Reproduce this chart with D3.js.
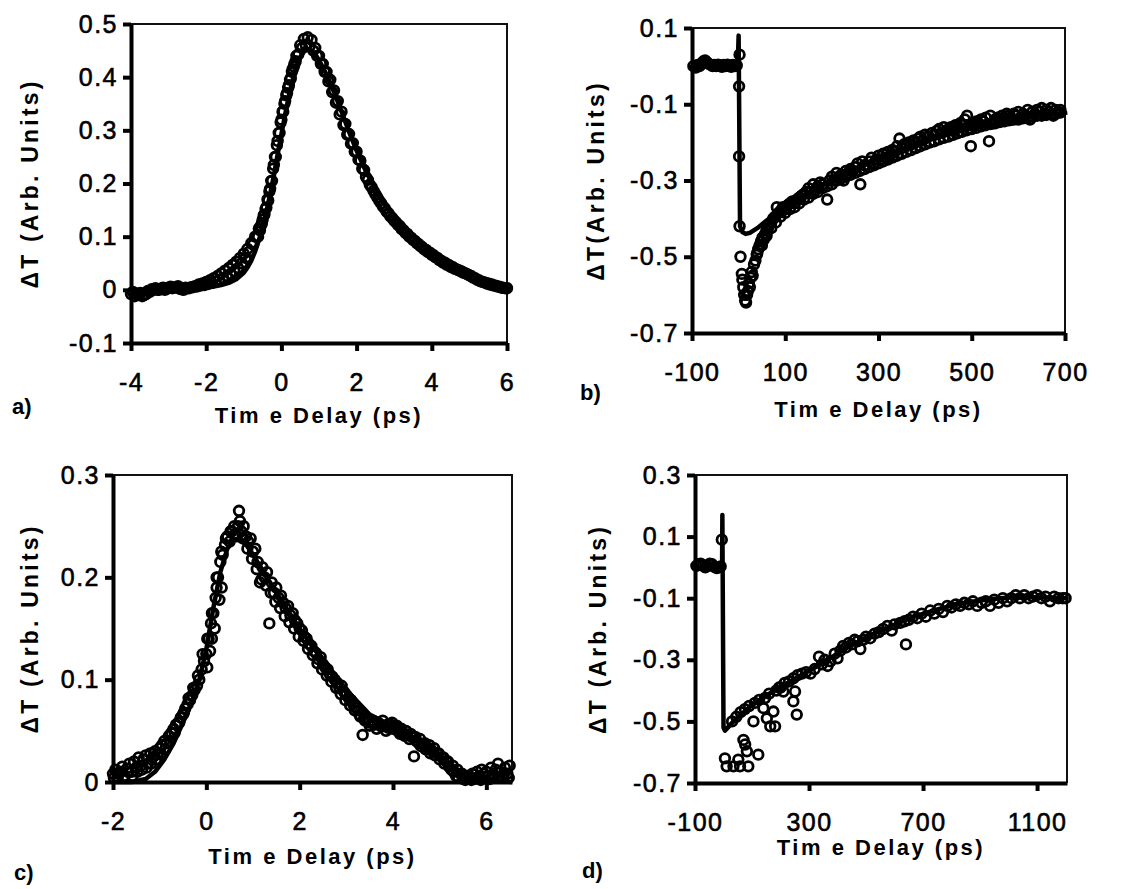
<!DOCTYPE html>
<html>
<head>
<meta charset="utf-8">
<script src="https://cdn.jsdelivr.net/npm/d3@7"></script>
<style>
  body { margin: 0; background: #fff; }
  svg text { font-family: "Liberation Sans", Arial, sans-serif; fill: #000; }
</style>
</head>
<body>
<svg width="1134" height="889"></svg>
<script>
// ---- panel a : short delay, sample 1 (two scans + fit) ----
const aPoints = [[-4.0,-0.008],[-3.9,-0.012],[-3.8,-0.01],[-3.7,-0.012],[-3.6,-0.008],[-3.5,-0.004],[-3.4,0.0],[-3.3,0.0],[-3.2,0.002],[-3.1,0.0],[-3.0,0.004],[-2.9,0.003],[-2.8,0.005],[-2.7,0.002],[-2.6,0.0],[-2.5,0.003],[-2.4,0.005],[-2.3,0.007],[-2.2,0.01],[-2.1,0.012],[-2.0,0.015],[-1.9,0.018],[-1.8,0.022],[-1.7,0.026],[-1.6,0.031],[-1.5,0.036],[-1.4,0.041],[-1.3,0.047],[-1.2,0.053],[-1.1,0.06],[-1.0,0.068],[-0.9,0.077],[-0.8,0.088],[-0.7,0.1],[-0.6,0.115],[-0.5,0.132],[-0.4,0.155],[-0.3,0.19],[-0.2,0.235],[-0.1,0.28],[0.0,0.32],[0.1,0.355],[0.2,0.385],[0.3,0.415],[0.4,0.44],[0.5,0.46],[0.6,0.472],[0.7,0.475],[0.8,0.47],[0.9,0.455],[1.0,0.44],[1.1,0.425],[1.2,0.41],[1.3,0.395],[1.4,0.375],[1.5,0.355],[1.6,0.335],[1.7,0.312],[1.8,0.293],[1.9,0.276],[2.0,0.26],[2.1,0.243],[2.2,0.225],[2.3,0.207],[2.4,0.193],[2.5,0.18],[2.6,0.168],[2.7,0.157],[2.8,0.147],[2.9,0.138],[3.0,0.13],[3.1,0.122],[3.2,0.114],[3.3,0.107],[3.4,0.1],[3.5,0.094],[3.6,0.088],[3.7,0.082],[3.8,0.076],[3.9,0.071],[4.0,0.066],[4.1,0.061],[4.2,0.056],[4.3,0.051],[4.4,0.047],[4.5,0.043],[4.6,0.04],[4.7,0.037],[4.8,0.034],[4.9,0.031],[5.0,0.027],[5.1,0.023],[5.2,0.019],[5.3,0.016],[5.4,0.014],[5.5,0.012],[5.6,0.01],[5.7,0.008],[5.8,0.006],[5.9,0.004],[6.0,0.003]];
const aPoints2 = [[-3.95,-0.004],[-3.85,-0.008],[-3.75,-0.006],[-3.65,-0.01],[-3.55,-0.002],[-3.45,0.001],[-3.35,0.003],[-3.25,0.0],[-3.15,0.004],[-3.05,0.002],[-2.95,0.006],[-2.85,0.004],[-2.75,0.007],[-2.65,0.001],[-2.55,0.004],[-2.45,0.003],[-2.35,0.005],[-2.25,0.006],[-2.15,0.008],[-2.05,0.009],[-1.95,0.011],[-1.85,0.013],[-1.75,0.016],[-1.65,0.019],[-1.55,0.022],[-1.45,0.026],[-1.35,0.03],[-1.25,0.035],[-1.15,0.041],[-1.05,0.05],[-0.95,0.06],[-0.85,0.072],[-0.75,0.085],[-0.65,0.1],[-0.62,0.1],[-0.57,0.112],[-0.55,0.12],[-0.52,0.125],[-0.47,0.14],[-0.45,0.142],[-0.42,0.152],[-0.37,0.17],[-0.35,0.168],[-0.32,0.185],[-0.27,0.205],[-0.25,0.205],[-0.22,0.228],[-0.17,0.25],[-0.15,0.25],[-0.12,0.272],[-0.07,0.295],[-0.05,0.295],[-0.02,0.315],[0.03,0.335],[0.05,0.335],[0.08,0.35],[0.13,0.366],[0.15,0.37],[0.18,0.38],[0.23,0.395],[0.25,0.398],[0.28,0.41],[0.33,0.42],[0.35,0.425],[0.38,0.43],[0.45,0.443],[0.55,0.455],[0.65,0.46],[0.75,0.458],[0.85,0.45],[0.95,0.44],[1.05,0.425],[1.15,0.41],[1.25,0.392],[1.35,0.372],[1.45,0.352],[1.55,0.33],[1.65,0.31],[1.75,0.292],[1.85,0.275],[1.95,0.26],[2.05,0.245],[2.15,0.228],[2.25,0.212],[2.35,0.198],[2.45,0.186],[2.55,0.174],[2.65,0.163],[2.75,0.153],[2.85,0.144],[2.95,0.135],[3.05,0.127],[3.15,0.12],[3.25,0.112],[3.35,0.105],[3.45,0.098],[3.55,0.092],[3.65,0.086],[3.75,0.08],[3.85,0.075],[3.95,0.07],[4.05,0.065],[4.15,0.06],[4.25,0.055],[4.35,0.051],[4.45,0.047],[4.55,0.043],[4.65,0.039],[4.75,0.036],[4.85,0.032],[4.95,0.029],[5.05,0.026],[5.15,0.022],[5.25,0.018],[5.35,0.015],[5.45,0.012],[5.55,0.01],[5.65,0.008],[5.75,0.006],[5.85,0.004],[5.95,0.003]];
const aFit = [[-4,0.0],[-3.5,0.0],[-3,0.001],[-2.5,0.002],[-2,0.004],[-1.8,0.006],[-1.6,0.009],[-1.4,0.013],[-1.2,0.02],[-1.0,0.032],[-0.9,0.042],[-0.8,0.055],[-0.7,0.072],[-0.6,0.093],[-0.5,0.118],[-0.4,0.147],[-0.3,0.18],[-0.2,0.215],[-0.1,0.255],[0,0.293],[0.1,0.33],[0.2,0.365],[0.3,0.395],[0.4,0.42],[0.5,0.438],[0.6,0.448],[0.7,0.452],[0.8,0.45],[0.9,0.443],[1.0,0.432],[1.2,0.405],[1.4,0.372],[1.6,0.335],[1.8,0.297],[2.0,0.262],[2.2,0.23],[2.4,0.202],[2.6,0.177],[2.8,0.156],[3.0,0.138],[3.3,0.115],[3.6,0.095],[4.0,0.072],[4.4,0.053],[4.8,0.037],[5.2,0.023],[5.6,0.012],[6.0,0.004]];
const aXTicks = [-4, -2, 0, 2, 4, 6];
const aXLabels = ["-4", "-2", "0", "2", "4", "6"];
const aYTicks = [0.5, 0.4, 0.3, 0.2, 0.1, 0, -0.1];
const aYLabels = ["0.5", "0.4", "0.3", "0.2", "0.1", "0", "-0.1"];

// ---- panel b : long delay, sample 1 ----
const bPoints = [[-97,0.0],[-92,-0.004],[-88,0.003],[-84,0.0],[-80,0.006],[-76,0.012],[-72,0.015],[-68,0.01],[-64,0.006],[-60,0.004],[-56,0.0],[-52,0.003],[-48,0.0],[-44,0.004],[-40,0.002],[-36,-0.002],[-32,0.003],[-28,0.0],[-24,0.004],[-20,0.001],[-16,-0.002],[-12,0.003],[-8,0.0],[-4,0.002],[2,0.03],[1,-0.053],[1,-0.237],[2,-0.42],[4,-0.5],[7,-0.545],[8,-0.56],[10,-0.58],[12,-0.6],[14,-0.615],[16,-0.62],[18,-0.6],[20,-0.59],[22,-0.57],[24,-0.58],[26,-0.555],[28,-0.54],[30,-0.55],[33,-0.52],[36,-0.51],[39,-0.495],[42,-0.48],[45,-0.47],[48,-0.46],[51,-0.45],[54,-0.455],[57,-0.44],[60,-0.43],[63,-0.425],[66,-0.415],[70,-0.41],[74,-0.4],[78,-0.395],[82,-0.37],[86,-0.385],[90,-0.38],[95,-0.37],[100,-0.375],[105,-0.365],[110,-0.36],[115,-0.355],[120,-0.36],[125,-0.35],[130,-0.345],[135,-0.34],[140,-0.335],[145,-0.33],[150,-0.32],[155,-0.33],[160,-0.31],[165,-0.325],[170,-0.315],[175,-0.305],[180,-0.31],[190,-0.35],[195,-0.3],[200,-0.29],[205,-0.3],[210,-0.28],[215,-0.29],[220,-0.285],[225,-0.3],[230,-0.275],[235,-0.28],[240,-0.27],[245,-0.275],[250,-0.265],[255,-0.255],[261,-0.31],[265,-0.25],[270,-0.26],[280,-0.25],[285,-0.24],[290,-0.255],[295,-0.245],[300,-0.235],[305,-0.245],[310,-0.23],[315,-0.24],[320,-0.225],[325,-0.235],[330,-0.22],[335,-0.225],[340,-0.21],[345,-0.19],[350,-0.215],[355,-0.205],[360,-0.21],[365,-0.2],[370,-0.205],[375,-0.195],[380,-0.2],[385,-0.19],[390,-0.185],[395,-0.195],[400,-0.18],[405,-0.185],[410,-0.2],[415,-0.175],[420,-0.18],[425,-0.17],[430,-0.165],[435,-0.175],[440,-0.16],[445,-0.17],[450,-0.165],[455,-0.16],[460,-0.17],[465,-0.155],[470,-0.16],[475,-0.15],[480,-0.155],[485,-0.14],[490,-0.13],[495,-0.165],[498,-0.21],[500,-0.15],[505,-0.155],[510,-0.145],[515,-0.15],[520,-0.14],[525,-0.145],[530,-0.135],[537,-0.197],[540,-0.13],[545,-0.15],[550,-0.14],[555,-0.135],[560,-0.14],[565,-0.13],[570,-0.135],[575,-0.125],[580,-0.13],[585,-0.14],[590,-0.125],[595,-0.13],[600,-0.12],[605,-0.135],[610,-0.125],[615,-0.13],[620,-0.115],[625,-0.14],[630,-0.12],[635,-0.125],[640,-0.115],[645,-0.12],[650,-0.11],[655,-0.125],[660,-0.115],[665,-0.12],[670,-0.11],[675,-0.13],[680,-0.115],[685,-0.12],[690,-0.115]];
const bPoints2 = [[40,-0.49],[50,-0.47],[60,-0.445],[70,-0.425],[80,-0.41],[90,-0.395],[100,-0.385],[110,-0.375],[120,-0.37],[130,-0.36],[140,-0.35],[150,-0.345],[160,-0.335],[170,-0.33],[180,-0.32],[190,-0.315],[200,-0.31],[210,-0.3],[220,-0.295],[230,-0.29],[240,-0.285],[250,-0.28],[260,-0.275],[270,-0.27],[280,-0.265],[290,-0.26],[300,-0.255],[310,-0.25],[320,-0.245],[330,-0.24],[340,-0.235],[350,-0.23],[360,-0.225],[370,-0.22],[380,-0.215],[390,-0.21],[400,-0.205],[410,-0.2],[420,-0.197],[430,-0.192],[440,-0.188],[450,-0.185],[460,-0.18],[470,-0.176],[480,-0.172],[490,-0.168],[500,-0.165],[510,-0.162],[520,-0.158],[530,-0.155],[540,-0.152],[550,-0.15],[560,-0.147],[570,-0.145],[580,-0.142],[590,-0.14],[600,-0.14],[610,-0.137],[620,-0.135],[630,-0.133],[640,-0.13],[650,-0.13],[660,-0.128],[670,-0.126],[680,-0.125],[690,-0.122]];
const bFit = [[-100,0],[-2,0],[0,0.08],[3,-0.42],[8,-0.435],[15,-0.44],[25,-0.437],[40,-0.425],[60,-0.405],[80,-0.387],[100,-0.37],[150,-0.332],[200,-0.298],[250,-0.268],[300,-0.242],[350,-0.218],[400,-0.197],[450,-0.179],[500,-0.163],[550,-0.15],[600,-0.139],[650,-0.13],[705,-0.122]];
const bXTicks = [-100, 100, 300, 500, 700];
const bXLabels = ["-100", "100", "300", "500", "700"];
const bYTicks = [0.1, -0.1, -0.3, -0.5, -0.7];
const bYLabels = ["0.1", "-0.1", "-0.3", "-0.5", "-0.7"];

// ---- panel c : short delay, sample 2 ----
const cPoints = [[-2.0,0.008],[-1.95,0.012],[-1.9,0.004],[-1.85,0.01],[-1.8,0.015],[-1.75,0.006],[-1.7,0.013],[-1.65,0.018],[-1.6,0.01],[-1.55,0.02],[-1.5,0.014],[-1.45,0.024],[-1.4,0.016],[-1.35,0.022],[-1.3,0.026],[-1.25,0.018],[-1.2,0.028],[-1.15,0.024],[-1.1,0.03],[-1.05,0.027],[-1.0,0.033],[-0.95,0.036],[-0.9,0.04],[-0.85,0.038],[-0.8,0.045],[-0.75,0.048],[-0.7,0.052],[-0.65,0.056],[-0.6,0.058],[-0.55,0.063],[-0.5,0.066],[-0.45,0.072],[-0.4,0.076],[-0.35,0.08],[-0.3,0.085],[-0.25,0.09],[-0.2,0.094],[-0.15,0.1],[-0.1,0.11],[-0.05,0.118],[0.0,0.125],[0.02,0.112],[0.05,0.14],[0.08,0.128],[0.1,0.155],[0.12,0.14],[0.15,0.165],[0.18,0.15],[0.2,0.18],[0.22,0.19],[0.25,0.2],[0.28,0.178],[0.3,0.215],[0.33,0.19],[0.35,0.222],[0.4,0.232],[0.45,0.24],[0.5,0.235],[0.55,0.245],[0.6,0.25],[0.65,0.24],[0.7,0.265],[0.72,0.255],[0.75,0.245],[0.8,0.25],[0.85,0.24],[0.9,0.235],[0.95,0.238],[1.0,0.225],[1.05,0.228],[1.1,0.215],[1.15,0.195],[1.2,0.21],[1.25,0.2],[1.3,0.205],[1.35,0.155],[1.4,0.195],[1.45,0.185],[1.5,0.19],[1.55,0.18],[1.6,0.182],[1.65,0.175],[1.7,0.17],[1.75,0.172],[1.8,0.163],[1.85,0.165],[1.9,0.158],[1.95,0.155],[2.0,0.15],[2.05,0.148],[2.1,0.142],[2.15,0.14],[2.2,0.135],[2.25,0.133],[2.3,0.128],[2.35,0.126],[2.4,0.12],[2.45,0.122],[2.5,0.115],[2.55,0.112],[2.6,0.11],[2.65,0.105],[2.7,0.103],[2.75,0.1],[2.8,0.097],[2.85,0.092],[2.9,0.094],[2.95,0.088],[3.0,0.085],[3.05,0.082],[3.1,0.08],[3.15,0.076],[3.2,0.073],[3.25,0.07],[3.3,0.064],[3.35,0.046],[3.4,0.06],[3.45,0.062],[3.5,0.055],[3.55,0.058],[3.6,0.056],[3.65,0.052],[3.7,0.057],[3.75,0.054],[3.8,0.055],[3.85,0.05],[3.9,0.053],[3.95,0.056],[4.0,0.052],[4.05,0.054],[4.1,0.05],[4.15,0.047],[4.2,0.048],[4.25,0.045],[4.3,0.046],[4.35,0.042],[4.4,0.044],[4.45,0.025],[4.5,0.04],[4.55,0.038],[4.6,0.035],[4.65,0.037],[4.7,0.032],[4.75,0.033],[4.8,0.028],[4.85,0.03],[4.9,0.026],[4.95,0.028],[5.0,0.022],[5.05,0.024],[5.1,0.018],[5.15,0.02],[5.2,0.015],[5.25,0.012],[5.3,0.01],[5.35,0.006],[5.4,0.004],[5.45,0.008],[5.5,0.003],[5.55,0.002],[5.6,0.006],[5.65,0.004],[5.7,0.008],[5.75,0.003],[5.8,0.01],[5.85,0.006],[5.9,0.012],[5.95,0.008],[6.0,0.01],[6.05,0.006],[6.1,0.014],[6.15,0.008],[6.2,0.012],[6.25,0.018],[6.3,0.01],[6.35,0.004],[6.4,0.014],[6.45,0.008],[6.5,0.016]];
const cPoints2 = [[-1.98,0.004],[-1.88,0.008],[-1.78,0.004],[-1.68,0.01],[-1.58,0.006],[-1.48,0.01],[-1.38,0.012],[-1.28,0.014],[-1.18,0.018],[-1.08,0.022],[-0.98,0.028],[-0.88,0.032],[-0.78,0.04],[-0.68,0.048],[-0.58,0.058],[-0.48,0.068],[-0.38,0.082],[-0.28,0.092],[-0.18,0.104],[-0.08,0.125],[0.02,0.14],[0.12,0.165],[0.22,0.2],[0.32,0.225],[0.42,0.238],[0.52,0.245],[0.62,0.242],[0.68,0.25],[0.78,0.238],[0.88,0.228],[0.98,0.218],[1.08,0.208],[1.18,0.198],[1.28,0.192],[1.38,0.185],[1.48,0.176],[1.58,0.17],[1.68,0.162],[1.78,0.156],[1.88,0.15],[1.98,0.142],[2.08,0.138],[2.18,0.13],[2.28,0.124],[2.38,0.116],[2.48,0.11],[2.58,0.104],[2.68,0.098],[2.78,0.092],[2.88,0.086],[2.98,0.08],[3.08,0.075],[3.18,0.07],[3.28,0.066],[3.38,0.062],[3.48,0.058],[3.58,0.06],[3.68,0.058],[3.78,0.06],[3.88,0.056],[3.98,0.058],[4.08,0.055],[4.18,0.052],[4.28,0.05],[4.38,0.047],[4.48,0.044],[4.58,0.042],[4.68,0.038],[4.78,0.036],[4.88,0.033],[4.98,0.028],[5.08,0.024],[5.18,0.02],[5.28,0.016],[5.38,0.012],[5.48,0.008],[5.58,0.004],[5.68,0.002],[5.78,0.004],[5.88,0.002],[5.98,0.005],[6.08,0.003],[6.18,0.006],[6.28,0.004],[6.38,0.008],[6.48,0.004]];
const cFit = [[-2,0.0],[-1.6,0.0],[-1.3,0.003],[-1.1,0.01],[-0.9,0.022],[-0.7,0.038],[-0.5,0.058],[-0.3,0.08],[-0.15,0.1],[0,0.13],[0.15,0.17],[0.3,0.205],[0.45,0.228],[0.6,0.237],[0.7,0.238],[0.85,0.232],[1.0,0.222],[1.3,0.2],[1.6,0.178],[2.0,0.15],[2.5,0.118],[3.0,0.09],[3.5,0.066],[4.0,0.053],[4.5,0.04],[5.0,0.024],[5.3,0.012],[5.6,0.004],[6.0,0.002],[6.55,0.0]];
const cXTicks = [-2, 0, 2, 4, 6];
const cXLabels = ["-2", "0", "2", "4", "6"];
const cYTicks = [0.3, 0.2, 0.1, 0];
const cYLabels = ["0.3", "0.2", "0.1", "0"];

// ---- panel d : long delay, sample 2 ----
const dPoints = [[-95,0.005],[-88,0.01],[-80,0.012],[-72,0.006],[-64,0.0],[-56,0.004],[-48,0.012],[-40,0.01],[-32,0.002],[-24,-0.002],[-16,0.0],[-10,0.003],[-6,0.09],[5,-0.62],[11,-0.646],[35,-0.646],[52,-0.624],[58,-0.646],[70,-0.56],[76,-0.575],[82,-0.597],[87,-0.646],[122,-0.608],[105,-0.5],[140,-0.457],[152,-0.49],[164,-0.516],[181,-0.516],[146,-0.424],[175,-0.468],[210,-0.403],[245,-0.435],[257,-0.478],[251,-0.403],[30,-0.5],[45,-0.485],[60,-0.47],[75,-0.46],[90,-0.45],[110,-0.44],[125,-0.43],[160,-0.41],[185,-0.4],[195,-0.39],[200,-0.39],[215,-0.375],[230,-0.37],[245,-0.36],[260,-0.35],[275,-0.345],[290,-0.34],[305,-0.345],[320,-0.33],[335,-0.29],[345,-0.315],[355,-0.3],[365,-0.32],[375,-0.305],[390,-0.28],[400,-0.295],[410,-0.27],[420,-0.255],[430,-0.26],[440,-0.245],[450,-0.25],[460,-0.235],[470,-0.24],[480,-0.265],[490,-0.235],[500,-0.225],[515,-0.23],[530,-0.215],[545,-0.21],[560,-0.2],[575,-0.19],[590,-0.205],[600,-0.185],[620,-0.18],[640,-0.25],[635,-0.175],[650,-0.17],[665,-0.16],[680,-0.165],[695,-0.15],[710,-0.16],[725,-0.14],[740,-0.15],[755,-0.135],[770,-0.145],[785,-0.125],[800,-0.13],[815,-0.12],[830,-0.125],[845,-0.115],[860,-0.12],[875,-0.11],[890,-0.125],[905,-0.115],[920,-0.11],[935,-0.125],[950,-0.105],[965,-0.115],[980,-0.1],[995,-0.11],[1010,-0.1],[1025,-0.09],[1040,-0.1],[1055,-0.09],[1070,-0.1],[1085,-0.095],[1100,-0.09],[1115,-0.1],[1130,-0.095],[1145,-0.11],[1160,-0.095],[1175,-0.1],[1190,-0.1],[1200,-0.1]];
const dFit = [[-100,0],[-5,0],[-4,0.17],[0,-0.52],[5,-0.53],[35,-0.5],[93,-0.452],[152,-0.415],[210,-0.383],[269,-0.352],[327,-0.322],[386,-0.288],[444,-0.255],[503,-0.227],[562,-0.2],[620,-0.178],[679,-0.157],[737,-0.14],[796,-0.125],[854,-0.114],[913,-0.106],[971,-0.1],[1030,-0.096],[1088,-0.097],[1147,-0.098],[1205,-0.1]];
const dXTicks = [-100, 300, 700, 1100];
const dXLabels = ["-100", "300", "700", "1100"];
const dYTicks = [0.3, 0.1, -0.1, -0.3, -0.5, -0.7];
const dYLabels = ["0.3", "0.1", "-0.1", "-0.3", "-0.5", "-0.7"];

const xTitle = "Tim e Delay (ps)";

// layout of the four panels on the page
const panels = [
  { tag: "a)", points: aPoints.concat(aPoints2), fit: aFit, xTicks: aXTicks, xLabels: aXLabels, yTicks: aYTicks, yLabels: aYLabels,
    xDomain: [-4, 6], yDomain: [-0.1, 0.5], left: 131, right: 507, top: 24, bottom: 343,
    yTitle: "ΔT (Arb. Units)", yTitleX: 30, tagX: 12, tagY: 414, xTitleDy: 80 },
  { tag: "b)", points: bPoints.concat(bPoints2), fit: bFit, xTicks: bXTicks, xLabels: bXLabels, yTicks: bYTicks, yLabels: bYLabels,
    xDomain: [-100, 700], yDomain: [-0.7, 0.1], left: 692, right: 1065, top: 28, bottom: 333,
    yTitle: "ΔT(Arb. Units)", yTitleX: 596, tagX: 580, tagY: 400, xTitleDy: 84 },
  { tag: "c)", points: cPoints.concat(cPoints2), fit: cFit, xTicks: cXTicks, xLabels: cXLabels, yTicks: cYTicks, yLabels: cYLabels,
    xDomain: [-2, 6.55], yDomain: [0, 0.3], left: 113, right: 512, top: 475, bottom: 782,
    yTitle: "ΔT (Arb. Units)", yTitleX: 30, tagX: 14, tagY: 880, xTitleDy: 82 },
  { tag: "d)", points: dPoints, fit: dFit, xTicks: dXTicks, xLabels: dXLabels, yTicks: dYTicks, yLabels: dYLabels,
    xDomain: [-100, 1205], yDomain: [-0.7, 0.3], left: 695, right: 1067, top: 475, bottom: 783,
    yTitle: "ΔT (Arb. Units)", yTitleX: 598, tagX: 582, tagY: 878, xTitleDy: 72 }
];

const svg = d3.select("svg");

function drawPanel(p) {
  const x = d3.scaleLinear().domain(p.xDomain).range([p.left, p.right]);
  const y = d3.scaleLinear().domain(p.yDomain).range([p.bottom, p.top]);
  const g = svg.append("g");

  // thin top / right frame
  g.append("path")
    .attr("d", `M${p.left},${p.top}H${p.right}V${p.bottom}`)
    .attr("fill", "none")
    .attr("stroke", "#111")
    .attr("stroke-width", 2);

  // measured points (open circles)
  g.append("g").selectAll("circle")
    .data(p.points)
    .join("circle")
    .attr("cx", d => x(d[0]))
    .attr("cy", d => y(d[1]))
    .attr("r", 4.8)
    .attr("fill", "none")
    .attr("stroke", "#000")
    .attr("stroke-width", 2.8);

  // fit curve
  g.append("path")
    .datum(p.fit)
    .attr("d", d3.line().x(d => x(d[0])).y(d => y(d[1])))
    .attr("fill", "none")
    .attr("stroke", "#000")
    .attr("stroke-width", 4.5)
    .attr("stroke-linejoin", "round");

  // axes
  const yAxis = d3.axisLeft(y).tickValues(p.yTicks)
    .tickFormat((d, i) => p.yLabels[i]).tickSize(8).tickSizeOuter(0).tickPadding(5);
  const xAxis = d3.axisBottom(x).tickValues(p.xTicks)
    .tickFormat((d, i) => p.xLabels[i]).tickSize(8).tickSizeOuter(0);

  const gy = g.append("g").attr("transform", `translate(${p.left},0)`).call(yAxis);
  const gx = g.append("g").attr("transform", `translate(0,${p.bottom})`).call(xAxis);

  [gx, gy].forEach(ax => {
    ax.select(".domain").attr("stroke", "#000").attr("stroke-width", 4);
    ax.selectAll(".tick line").attr("stroke", "#000").attr("stroke-width", 4);
    ax.selectAll(".tick text")
      .attr("font-size", 25)
      .attr("font-family", "Liberation Sans, Arial, sans-serif")
      .attr("letter-spacing", 1.5)
      .attr("fill", "#000")
      .attr("stroke", "#000")
      .attr("stroke-width", 0.6);
  });
  gx.selectAll(".tick text").attr("y", 48).attr("dy", null);

  // axis titles
  g.append("text")
    .attr("x", (p.left + p.right) / 2)
    .attr("y", p.bottom + p.xTitleDy)
    .attr("text-anchor", "middle")
    .attr("font-size", 22)
    .attr("font-weight", "bold")
    .attr("letter-spacing", 2.5)
    .text(xTitle);

  g.append("text")
    .attr("transform", `translate(${p.yTitleX},${(p.top + p.bottom) / 2}) rotate(-90)`)
    .attr("text-anchor", "middle")
    .attr("dy", "0.35em")
    .attr("font-size", 23)
    .attr("font-weight", "bold")
    .attr("letter-spacing", 3.2)
    .text(p.yTitle);

  // panel tag
  g.append("text")
    .attr("x", p.tagX)
    .attr("y", p.tagY)
    .attr("font-family", "Liberation Serif, Times New Roman, serif")
    .attr("font-size", 22)
    .attr("font-weight", "bold")
    .text(p.tag);
}

panels.forEach(drawPanel);
</script>
</body>
</html>
